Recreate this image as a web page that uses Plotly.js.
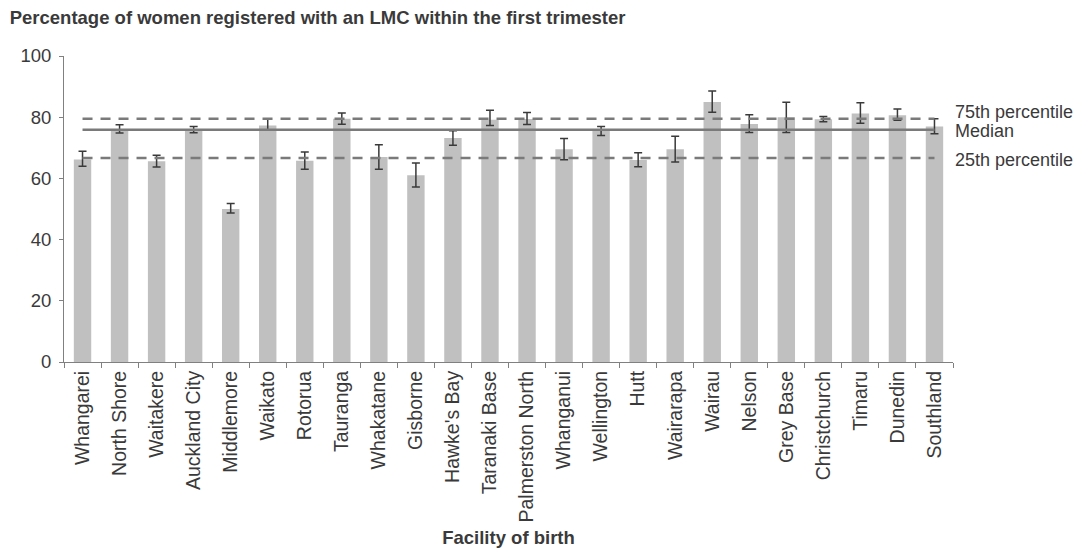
<!DOCTYPE html>
<html>
<head>
<meta charset="utf-8">
<script src="https://cdn.plot.ly/plotly-3.0.1.min.js"></script>
<style>html,body{margin:0;padding:0;background:#fff;}#chart{width:1080px;height:549px;}</style>
</head>
<body>
<div id="chart"></div>
<script>
const categories = ["Whangarei","North Shore","Waitakere","Auckland City","Middlemore","Waikato","Rotorua","Tauranga","Whakatane","Gisborne","Hawke's Bay","Taranaki Base","Palmerston North","Whanganui","Wellington","Hutt","Wairarapa","Wairau","Nelson","Grey Base","Christchurch","Timaru","Dunedin","Southland"];
const values = [66.2,76.1,65.6,76.0,50.0,77.3,65.8,79.5,67.0,61.0,73.2,79.2,79.4,69.5,75.6,66.0,69.5,85.0,77.8,80.0,79.3,81.2,80.6,77.0];
const lowerCI = [64.0,74.8,63.7,74.9,48.7,75.8,63.0,77.7,63.0,57.2,70.8,77.3,77.6,66.1,74.0,63.8,65.4,81.6,75.0,75.0,78.5,78.0,79.0,74.6];
const upperCI = [68.9,77.5,67.6,77.0,51.8,79.4,68.6,81.4,71.0,65.0,75.6,82.3,81.5,73.0,77.0,68.4,73.8,88.6,80.8,84.9,80.2,84.7,82.7,79.5];
const percentile75 = 79.5;
const median = 75.9;
const percentile25 = 66.7;
const refLabels = ["75th percentile","Median","25th percentile"];
const chartTitle = "Percentage of women registered with an LMC within the first trimester";
const xTitle = "Facility of birth";

const FONT = "Liberation Sans, Arial, sans-serif";
const ends = [categories[0], categories[categories.length-1]];

const traces = [
  {
    type: "bar", x: categories, y: values,
    marker: {color: "#c0c0c0"},
    error_y: {
      type: "data", symmetric: false,
      array: upperCI.map((u,i)=>u-values[i]),
      arrayminus: values.map((v,i)=>v-lowerCI[i]),
      color: "#3a3a3a", thickness: 1.5, width: 4
    },
    hoverinfo: "x+y"
  },
  {type:"scatter", mode:"lines", x: ends, y:[percentile75,percentile75], line:{color:"#7a7a7a", width:2.5, dash:"10px,8px"}},
  {type:"scatter", mode:"lines", x: ends, y:[median,median], line:{color:"#7a7a7a", width:2.5}},
  {type:"scatter", mode:"lines", x: ends, y:[percentile25,percentile25], line:{color:"#7a7a7a", width:2.5, dash:"10px,8px"}}
];

const refVals = [percentile75, median, percentile25];
const shifts = [7, -1, -2];
const annotations = refLabels.map((t,i)=>({
  text: t, xref:"paper", x:1, xanchor:"left", xshift:0,
  yref:"y", y: refVals[i], yshift: shifts[i], yanchor:"middle",
  showarrow:false, font:{family:FONT, size:18, color:"#3a3a3a"}
}));

const layout = {
  width:1080, height:549,
  paper_bgcolor:"#fff", plot_bgcolor:"#fff",
  margin:{l:64, r:127, t:56, b:187},
  showlegend:false,
  bargap:0.53,
  title:{text: chartTitle, x:0.009, xanchor:"left", xref:"container", y:0.968, yref:"container", yanchor:"middle",
         font:{family:FONT, size:18.5, color:"#3a3a3a", weight:"bold"}},
  xaxis:{
    type:"category", tickangle:-90, showline:true, linecolor:"#808080", linewidth:1,
    ticks:"outside", tickson:"boundaries", ticklen:5, tickcolor:"#808080",
    tickfont:{family:FONT, size:19.5, color:"#3a3a3a"},
    title:{text:xTitle, font:{family:FONT, size:18.5, color:"#3a3a3a", weight:"bold"}, standoff:9},
    showgrid:false, zeroline:false, automargin:false
  },
  yaxis:{
    range:[0,100], dtick:20, showline:true, linecolor:"#808080", linewidth:1,
    ticks:"outside", ticklen:4, tickcolor:"#808080", ticklabelstandoff:4,
    tickfont:{family:FONT, size:18.5, color:"#3a3a3a"},
    showgrid:false, zeroline:false
  },
  annotations: annotations
};

Plotly.newPlot("chart", traces, layout, {displayModeBar:false, staticPlot:true});
</script>
</body>
</html>
